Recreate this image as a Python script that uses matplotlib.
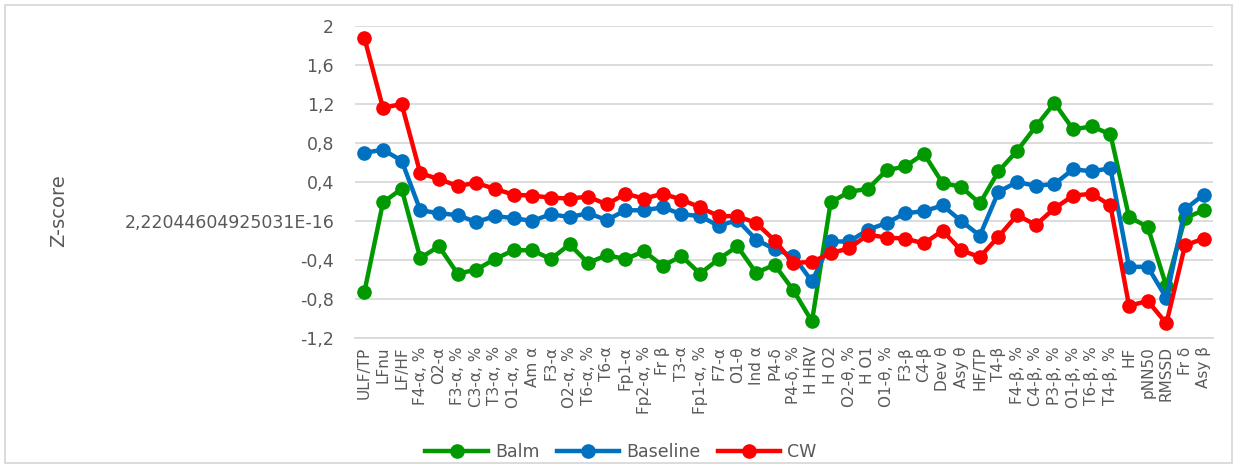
import numpy as np
import matplotlib
matplotlib.use("Agg")
import matplotlib.pyplot as plt
from matplotlib.patches import Rectangle

# categories on the x axis
labels = ["ULF/TP", "LFnu", "LF/HF", "F4-α, %", "O2-α", "F3-α, %", "C3-α, %", "T3-α, %",
          "O1-α, %", "Am α", "F3-α", "O2-α, %", "T6-α, %", "T6-α", "Fp1-α", "Fp2-α, %",
          "Fr β", "T3-α", "Fp1-α, %", "F7-α", "O1-θ", "Ind α", "P4-δ", "P4-δ, %",
          "H HRV", "H O2", "O2-θ, %", "H O1", "O1-θ, %", "F3-β", "C4-β", "Dev θ",
          "Asy θ", "HF/TP", "T4-β", "F4-β, %", "C4-β, %", "P3-β, %", "O1-β, %",
          "T6-β, %", "T4-β, %", "HF", "pNN50", "RMSSD", "Fr δ", "Asy β"]

balm = [-0.73, 0.19, 0.33, -0.38, -0.26, -0.54, -0.50, -0.39, -0.30, -0.30,
        -0.39, -0.24, -0.43, -0.35, -0.39, -0.31, -0.46, -0.36, -0.54, -0.39,
        -0.26, -0.53, -0.45, -0.71, -1.03, 0.19, 0.30, 0.33, 0.52, 0.56,
        0.69, 0.39, 0.35, 0.18, 0.51, 0.72, 0.97, 1.21, 0.94, 0.97,
        0.89, 0.04, -0.06, -0.67, 0.03, 0.11]

baseline = [0.70, 0.73, 0.62, 0.11, 0.08, 0.06, -0.01, 0.05, 0.03, 0.00,
            0.07, 0.04, 0.08, 0.01, 0.11, 0.11, 0.14, 0.07, 0.05, -0.05,
            0.01, -0.19, -0.29, -0.36, -0.62, -0.21, -0.21, -0.09, -0.02, 0.08,
            0.10, 0.16, 0.00, -0.15, 0.30, 0.40, 0.36, 0.38, 0.53, 0.51,
            0.54, -0.47, -0.47, -0.79, 0.12, 0.27]

cw = [1.88, 1.16, 1.20, 0.49, 0.43, 0.36, 0.39, 0.33, 0.27, 0.26,
      0.24, 0.23, 0.25, 0.17, 0.28, 0.23, 0.28, 0.22, 0.14, 0.05,
      0.05, -0.02, -0.20, -0.43, -0.42, -0.33, -0.28, -0.14, -0.17, -0.18,
      -0.23, -0.10, -0.30, -0.37, -0.16, 0.06, -0.04, 0.13, 0.26, 0.28,
      0.16, -0.87, -0.82, -1.05, -0.25, -0.18]

yticks = [2, 1.6, 1.2, 0.8, 0.4, 0, -0.4, -0.8, -1.2]
ytick_labels = ["2", "1,6", "1,2", "0,8", "0,4", "2,22044604925031E-16", "-0,4", "-0,8", "-1,2"]

GREEN = "#009900"
BLUE = "#0070C0"
RED = "#FF0000"
GREY = "#595959"
GRID = "#d9d9d9"

W, H = 1237, 468
fig = plt.figure(figsize=(W / 100, H / 100), dpi=100)
ax = fig.add_axes([355 / W, 1 - 338 / H, (1213 - 355) / W, (338 - 26) / H])

x = np.arange(len(labels))
for vals, col, name in [(balm, GREEN, "Balm"), (baseline, BLUE, "Baseline"), (cw, RED, "CW")]:
    ax.plot(x, vals, color=col, lw=3.2, marker="o", ms=9.5, label=name, zorder=3)

ax.set_xlim(-0.5, len(labels) - 0.5)
ax.set_ylim(-1.2, 2)
ax.set_yticks(yticks)
ax.set_yticklabels(ytick_labels, fontsize=12.5, color=GREY)
ax.set_xticks(x)
ax.set_xticklabels(labels, rotation=90, fontsize=11, color=GREY)
ax.tick_params(length=0)
ax.tick_params(axis="x", pad=6)
ax.tick_params(axis="y", pad=15)

ax.grid(axis="y", color=GRID, lw=1.3)
ax.set_axisbelow(True)
for s in ["top", "right", "left"]:
    ax.spines[s].set_visible(False)
ax.spines["bottom"].set_color(GRID)
ax.spines["bottom"].set_linewidth(1.3)

fig.text(59 / W, 1 - 211 / H, "Z-score", rotation=90, va="center", ha="center",
         fontsize=14, color=GREY)

fig.legend(loc="center", bbox_to_anchor=(0.502, 1 - 452 / H), ncol=3, frameon=False,
           fontsize=12.5, handlelength=3.6, columnspacing=1.0, handletextpad=0.4,
           labelcolor=GREY)

# outer chart border
fig.patches.append(Rectangle((5 / W, 5 / H), (W - 10) / W, (H - 10) / H,
                             transform=fig.transFigure, fill=False,
                             edgecolor=GRID, lw=1.3))

fig.savefig("out.png", dpi=100)
